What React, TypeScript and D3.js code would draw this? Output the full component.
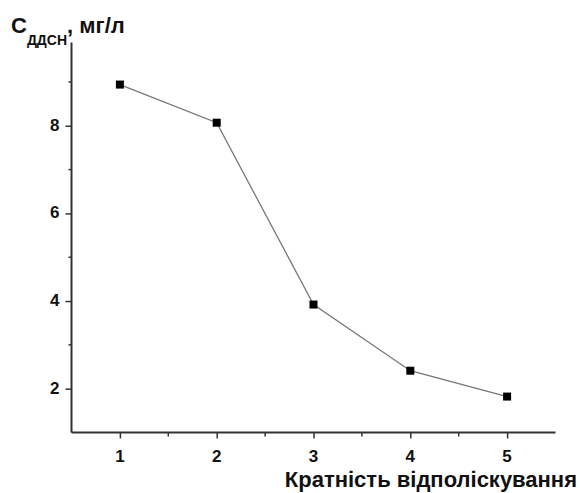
import React, { useRef, useEffect } from 'react';
import * as d3 from 'd3';

// кратність відполіскування
const rinses = [1, 2, 3, 4, 5];
// концентрація ДДСН, мг/л
const conc = [8.94, 8.07, 3.92, 2.41, 1.82];
const xTicks = [1, 2, 3, 4, 5];
const xMinor = [1.5, 2.5, 3.5, 4.5];
const yTicks = [2, 4, 6, 8];
const yMinor = [3, 5, 7, 9];

export default function App() {
  const svgRef = useRef<SVGSVGElement>(null);
  const width = 580;
  const height = 493;

  useEffect(() => {
    const svg = d3.select(svgRef.current);
    svg.selectAll('*').remove();

    const x = d3.scaleLinear().domain([0.5, 5.5]).range([71.5, 555.5]);
    const y = d3.scaleLinear().domain([1, 9.9]).range([432.5, 42.5]);
    const font = '"Liberation Sans", Arial, sans-serif';
    const axisColor = '#333';

    // осі (засічки від d3, підписи окремо)
    const xAxis = svg.append('g').attr('transform', `translate(0,${y(1)})`);
    xAxis.call(d3.axisBottom(x).tickValues(xTicks).tickSize(6).tickFormat(() => ''));
    const yAxis = svg.append('g').attr('transform', `translate(${x(0.5)},0)`);
    yAxis.call(d3.axisLeft(y).tickValues(yTicks).tickSize(6).tickFormat(() => ''));

    [xAxis, yAxis].forEach(g => {
      g.select('.domain').attr('stroke', axisColor).attr('stroke-width', 2);
      g.selectAll('.tick line').attr('stroke', axisColor).attr('stroke-width', 1.5);
    });
    xAxis.select('.domain').attr('d', `M${x(0.5)},0H${x(5.5)}`);
    yAxis.select('.domain').attr('d', `M0,${y(1)}V${y(9.9)}`);

    // підписи засічок
    svg.append('g')
      .selectAll('text')
      .data(xTicks)
      .join('text')
      .attr('x', d => x(d))
      .attr('y', y(1) + 29)
      .attr('text-anchor', 'middle')
      .attr('fill', '#111')
      .attr('font-family', font)
      .attr('font-weight', 'bold')
      .attr('font-size', 17)
      .text(d => d);
    svg.append('g')
      .selectAll('text')
      .data(yTicks)
      .join('text')
      .attr('x', x(0.5) - 12)
      .attr('y', d => y(d))
      .attr('dy', '0.3em')
      .attr('text-anchor', 'end')
      .attr('fill', '#111')
      .attr('font-family', font)
      .attr('font-weight', 'bold')
      .attr('font-size', 17)
      .text(d => d);

    // проміжні засічки
    const minor = svg.append('g').attr('stroke', axisColor).attr('stroke-width', 1.5);
    minor.selectAll('line.mx')
      .data(xMinor)
      .join('line')
      .attr('class', 'mx')
      .attr('x1', d => x(d)).attr('x2', d => x(d))
      .attr('y1', y(1)).attr('y2', y(1) + 4);
    minor.selectAll('line.my')
      .data(yMinor)
      .join('line')
      .attr('class', 'my')
      .attr('x1', x(0.5)).attr('x2', x(0.5) - 3)
      .attr('y1', d => y(d)).attr('y2', d => y(d));

    // лінія
    const line = d3.line<number>()
      .x((_, i) => x(rinses[i]))
      .y(d => y(d));
    svg.append('path')
      .datum(conc)
      .attr('d', line)
      .attr('fill', 'none')
      .attr('stroke', '#777')
      .attr('stroke-width', 1.3);

    // маркери
    svg.append('g')
      .selectAll('rect')
      .data(conc)
      .join('rect')
      .attr('x', (_, i) => x(rinses[i]) - 4)
      .attr('y', d => y(d) - 4)
      .attr('width', 8)
      .attr('height', 8)
      .attr('fill', '#000');

    // підписи осей
    const yTitle = svg.append('text')
      .attr('x', 11)
      .attr('y', 33)
      .attr('fill', '#111')
      .attr('font-family', font)
      .attr('font-weight', 'bold')
      .attr('font-size', 22);
    yTitle.append('tspan').text('C');
    yTitle.append('tspan').attr('dy', 12).attr('font-size', 14).text('ДДСН');
    yTitle.append('tspan').attr('dy', -12).text(', мг/л');

    svg.append('text')
      .attr('x', 577)
      .attr('y', 487)
      .attr('text-anchor', 'end')
      .attr('fill', '#111')
      .attr('font-family', font)
      .attr('font-weight', 'bold')
      .attr('font-size', 22)
      .text('Кратність відполіскування');
  }, []);

  return (
    <svg
      ref={svgRef}
      width={width}
      height={height}
      style={{ position: 'absolute', left: 0, top: 0, background: '#fff' }}
    />
  );
}
